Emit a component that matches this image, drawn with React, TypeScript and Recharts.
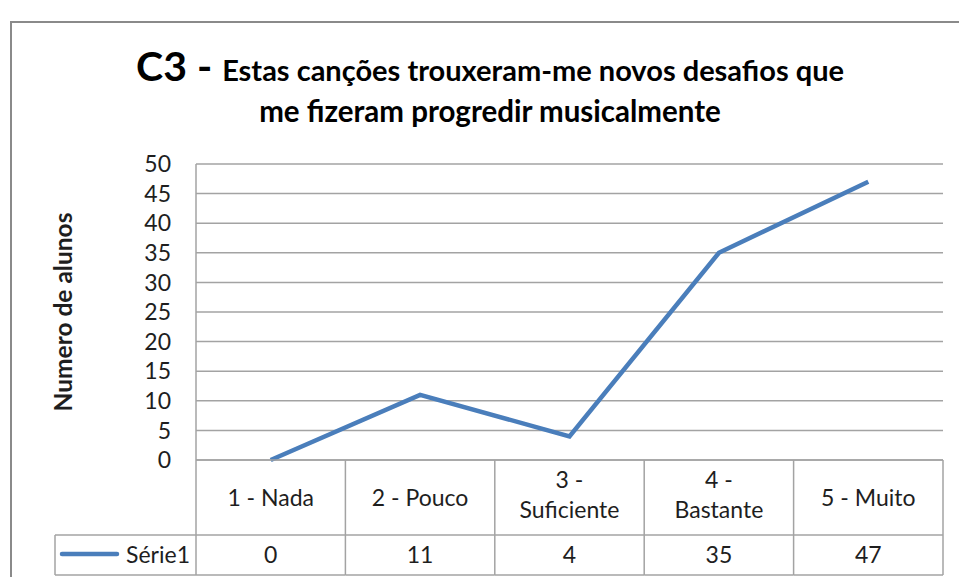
import { CartesianGrid, Line, LineChart, XAxis, YAxis } from "recharts";

const categories = ["1 - Nada", "2 - Pouco", "3 - Suficiente", "4 - Bastante", "5 - Muito"];
const serie1 = [0, 11, 4, 35, 47];
const yTicks = [0, 5, 10, 15, 20, 25, 30, 35, 40, 45, 50];
const seriesName = "Série1";

const data = categories.map((name, i) => ({ name, value: serie1[i] }));

const FONT = "Lato, 'Open Sans', sans-serif";
const GRID = "#a3a3a3";
const BLUE = "#4a7ebb";
const TEXT = "#1e1e1e";

// plot area: x 196..943, y 164..460
const PLOT_LEFT = 196;
const PLOT_RIGHT = 943;
const HALF = (PLOT_RIGHT - PLOT_LEFT) / categories.length / 2;
const ROW1 = 75;
const ROW2 = 115;
const LEGEND_LEFT = 55;
const TABLE_FONT = 23;

const TableTick = (props: any) => {
    const { x, y, payload, index } = props;
    const label: string = payload.value;
    const cut = label.indexOf(" - ");
    const lines = label.length > 10 ? [label.slice(0, cut + 2), label.slice(cut + 3)] : [label];
    const left = x - HALF;
    const right = x + HALF;
    return (
        <g>
            <line x1={right} x2={right} y1={y} y2={y + ROW2} stroke={GRID} strokeWidth={1.5} />
            <line x1={left} x2={right} y1={y + ROW1} y2={y + ROW1} stroke={GRID} strokeWidth={1.5} />
            <line x1={left} x2={right} y1={y + ROW2} y2={y + ROW2} stroke={GRID} strokeWidth={1.5} />
            {index === 0 && (
                <g>
                    <line x1={left} x2={left} y1={y} y2={y + ROW2} stroke={GRID} strokeWidth={1.5} />
                    <line x1={LEGEND_LEFT} x2={left} y1={y + ROW1} y2={y + ROW1} stroke={GRID} strokeWidth={1.5} />
                    <line x1={LEGEND_LEFT} x2={left} y1={y + ROW2} y2={y + ROW2} stroke={GRID} strokeWidth={1.5} />
                    <line x1={LEGEND_LEFT} x2={LEGEND_LEFT} y1={y + ROW1} y2={y + ROW2} stroke={GRID} strokeWidth={1.5} />
                    <line x1={62} x2={117} y1={y + 94} y2={y + 94} stroke={BLUE} strokeWidth={4.5} strokeLinecap="round" />
                    <text x={left - 6} y={y + 94} textAnchor="end" dominantBaseline="central" fontSize={TABLE_FONT} fill={TEXT} fontFamily={FONT}>
                        {seriesName}
                    </text>
                </g>
            )}
            <text x={x} y={y + 38} textAnchor="middle" fontSize={TABLE_FONT} fill={TEXT} fontFamily={FONT}>
                {lines.map((l, i) => (
                    <tspan key={i} x={x} dy={i === 0 ? (lines.length > 1 ? "-0.43em" : "0.35em") : "1.3em"}>
                        {l}
                    </tspan>
                ))}
            </text>
            <text x={x} y={y + 94} textAnchor="middle" dominantBaseline="central" fontSize={TABLE_FONT} fill={TEXT} fontFamily={FONT}>
                {serie1[index]}
            </text>
        </g>
    );
};

const YLabel = (props: any) => {
    const { viewBox } = props;
    const cy = viewBox.y + viewBox.height / 2;
    return (
        <text x={62} y={cy} transform={`rotate(-90, 62, ${cy})`} textAnchor="middle" dominantBaseline="central" fontSize={24.5} fontWeight="bold" fill={TEXT} fontFamily={FONT}>
            Numero de alunos
        </text>
    );
};

export default function App() {
    return (
        <div style={{ position: "absolute", left: 0, top: 0, width: 959, height: 577, background: "#fff", overflow: "hidden" }}>
            <div style={{ position: "absolute", left: 10, top: 21, width: 1200, height: 1000, border: "2px solid #8a8a8a" }} />
            <div style={{ position: "absolute", left: 0, top: 0 }}>
                <LineChart width={959} height={577} data={data} margin={{ top: 164, right: 959 - PLOT_RIGHT, bottom: 0, left: 0 }}>
                    <CartesianGrid vertical={false} stroke={GRID} strokeWidth={1.5} />
                    <XAxis
                        dataKey="name"
                        height={117}
                        padding={{ left: HALF, right: HALF }}
                        tickLine={false}
                        tickSize={0}
                        tickMargin={0}
                        interval={0}
                        axisLine={{ stroke: GRID, strokeWidth: 1.5 }}
                        tick={<TableTick />}
                    />
                    <YAxis
                        width={PLOT_LEFT}
                        domain={[0, 50]}
                        ticks={yTicks}
                        interval={0}
                        tickLine={false}
                        tickSize={0}
                        tickMargin={25}
                        axisLine={{ stroke: GRID, strokeWidth: 1.5 }}
                        tick={{ fontSize: 23, fill: TEXT, fontFamily: FONT }}
                        label={<YLabel />}
                    />
                    <Line type="linear" dataKey="value" stroke={BLUE} strokeWidth={4.5} dot={false} isAnimationActive={false} />
                </LineChart>
            </div>
            <svg width={959} height={577} style={{ position: "absolute", left: 0, top: 0, pointerEvents: "none" }}>
                <text x={490} y={81} textAnchor="middle" fontFamily={FONT} fontWeight="bold" fill="#000">
                    <tspan fontSize={41}>C3 - </tspan>
                    <tspan fontSize={29}>Estas canções trouxeram-me novos desafios que</tspan>
                </text>
                <text x={490} y={122} textAnchor="middle" fontFamily={FONT} fontWeight="bold" fontSize={29.5} fill="#000">
                    me fizeram progredir musicalmente
                </text>
            </svg>
        </div>
    );
}
